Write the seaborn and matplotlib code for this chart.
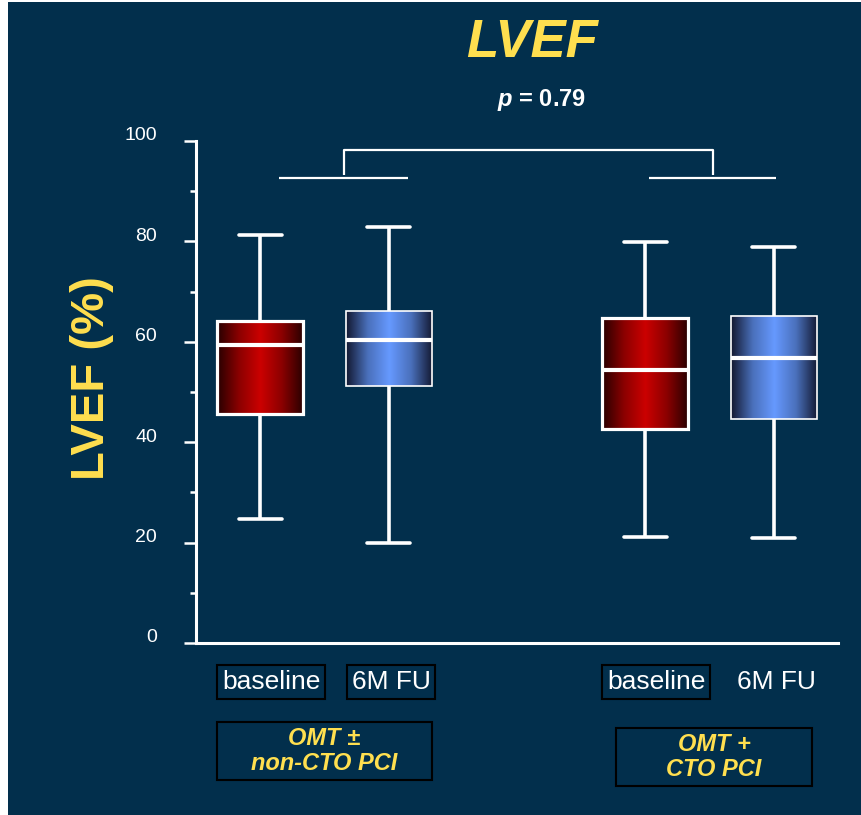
import numpy as np
import pandas as pd
import matplotlib
matplotlib.use("Agg")
import matplotlib.pyplot as plt
import matplotlib.transforms as mtrans
import seaborn as sns
from matplotlib.patches import Rectangle
from matplotlib.colors import LinearSegmentedColormap

# ---------------- data ----------------
box_ids = ["g1_base", "g1_fu", "g2_base", "g2_fu"]
conditions = ["baseline", "6M FU", "baseline", "6M FU"]
group_labels = ["OMT \u00b1\nnon-CTO PCI", "OMT +\nCTO PCI"]
whisker_low = [24.7, 19.9, 21.1, 20.9]
q1 = [45.6, 51.2, 42.6, 44.6]
median = [59.4, 60.4, 54.4, 56.8]
q3 = [64.1, 66.1, 64.7, 65.1]
whisker_high = [81.3, 82.9, 79.9, 78.9]
slot_order = ["g1_base", "g1_fu", "gap", "g2_base", "g2_fu"]
y_ticks = [0, 20, 40, 60, 80, 100]
y_minor = [10, 30, 50, 70, 90]
title = "LVEF"
p_text = r"$p$ = 0.79"
y_label = "LVEF (%)"

rows = []
for bid, cond, lo, a, m, b, hi in zip(box_ids, conditions, whisker_low, q1, median, q3, whisker_high):
    for v in (lo, a, m, b, hi):
        rows.append({"box": bid, "condition": cond, "lvef": v})
df = pd.DataFrame(rows)

# ---------------- style ----------------
BG = "#022f4c"
YEL = "#ffdf4f"
sns.set_style("ticks")
plt.rcParams["font.family"] = ["Liberation Sans", "DejaVu Sans"]
plt.rcParams["mathtext.fontset"] = "custom"
plt.rcParams["mathtext.it"] = "Liberation Sans:italic:bold"
plt.rcParams["mathtext.rm"] = "Liberation Sans:bold"

fig = plt.figure(figsize=(8.62, 8.15), dpi=100, facecolor="white")
fig.patches.append(Rectangle((8 / 862, 0), 853 / 862, 813 / 815, transform=fig.transFigure,
                             facecolor=BG, edgecolor="none", zorder=-10))
ax = fig.add_axes([196 / 862, 172 / 815, 642 / 862, 502 / 815])
ax.set_facecolor("none")

sns.boxplot(data=df, x="box", y="lvef", order=slot_order, whis=(0, 100), width=0.67,
            color="#888888", linecolor="white", linewidth=2.5, fill=True, ax=ax,
            medianprops=dict(color="white", linewidth=3.0),
            whiskerprops=dict(color="white", linewidth=2.6),
            capprops=dict(color="white", linewidth=2.6))

# gradient fills
cmaps = {
    "baseline": LinearSegmentedColormap.from_list("red", ["#260000", "#8a0000", "#cc0000", "#8a0000", "#260000"]),
    "6M FU": LinearSegmentedColormap.from_list("blue", ["#121830", "#4a70bb", "#6699ff", "#4a70bb", "#121830"]),
}
grad = np.linspace(0, 1, 256).reshape(1, -1)
for patch in list(ax.patches):
    ext = patch.get_path().get_extents()
    cx = (ext.x0 + ext.x1) / 2
    slot = slot_order[int(round(cx))]
    cond = conditions[box_ids.index(slot)]
    ax.imshow(grad, cmap=cmaps[cond], extent=[ext.x0, ext.x1, ext.y0, ext.y1],
              aspect="auto", interpolation="bilinear", zorder=1.9)
    patch.set_facecolor("none")
    patch.set_edgecolor("white")
    patch.set_linewidth(2.3 if cond == "baseline" else 1.2)

ax.set_xlim(-0.5, 4.5)
ax.set_ylim(0, 100)

# brackets
bw = dict(color="white", lw=1.6, clip_on=False, solid_capstyle="butt")
ax.plot([0.15, 1.15], [92.6, 92.6], **bw)
ax.plot([3.03, 4.02], [92.6, 92.6], **bw)
ax.plot([0.65, 0.65, 3.53, 3.53], [93.3, 98.2, 98.2, 93.3], **bw)

# axes styling
ax.set_yticks(y_ticks)
ax.set_yticks(y_minor, minor=True)
ax.tick_params(axis="y", which="major", length=9, width=1.8, color="white",
               labelcolor="white", labelsize=14, pad=19)
ax.tick_params(axis="y", which="minor", length=4.5, width=1.8, color="white")
ax.tick_params(axis="x", length=0, labelbottom=False)
ax.set_xlabel("")
ax.set_ylabel("")
shift = mtrans.ScaledTranslation(0, 7 / 100, fig.dpi_scale_trans)
for lbl in ax.get_yticklabels():
    lbl.set_transform(lbl.get_transform() + shift)
for s in ("top", "right"):
    ax.spines[s].set_visible(False)
for s in ("left", "bottom"):
    ax.spines[s].set_color("white")
    ax.spines[s].set_linewidth(2.2)

# condition labels
offsets = {"baseline": 0.085, "6M FU": 0.02}
boxed = [True, True, True, False]
for bid, cond, bx in zip(box_ids, conditions, boxed):
    ax.text(slot_order.index(bid) + offsets[cond], -7.8, cond, ha="center", va="center",
            fontsize=19, color="white", clip_on=False,
            bbox=dict(boxstyle="square,pad=0.18", facecolor="none",
                      edgecolor="black" if bx else "none", lw=1.5))

# group labels
group_rects = [(217, 722, 215, 58), (616, 728, 196, 58)]
for (x, y, w, h), lab in zip(group_rects, group_labels):
    fig.patches.append(Rectangle((x / 862, 1 - (y + h) / 815), w / 862, h / 815,
                                 transform=fig.transFigure, facecolor="none",
                                 edgecolor="black", lw=1.5))
    fig.text((x + w / 2) / 862, 1 - (y + h / 2) / 815, lab, ha="center", va="center",
             fontsize=17, fontweight="bold", fontstyle="italic", color=YEL, linespacing=1.1)

fig.text(92 / 862, 1 - 378 / 815, y_label, rotation=90, ha="center", va="center",
         fontsize=34, fontweight="bold", color=YEL)
fig.text(532 / 862, 1 - 43 / 815, title, ha="center", va="center",
         fontsize=38, fontweight="bold", fontstyle="italic", color=YEL)
fig.text(541 / 862, 1 - 100 / 815, p_text, ha="center", va="center",
         fontsize=17, fontweight="bold", color="white")

fig.savefig("out.png", dpi=100, facecolor=fig.get_facecolor())
